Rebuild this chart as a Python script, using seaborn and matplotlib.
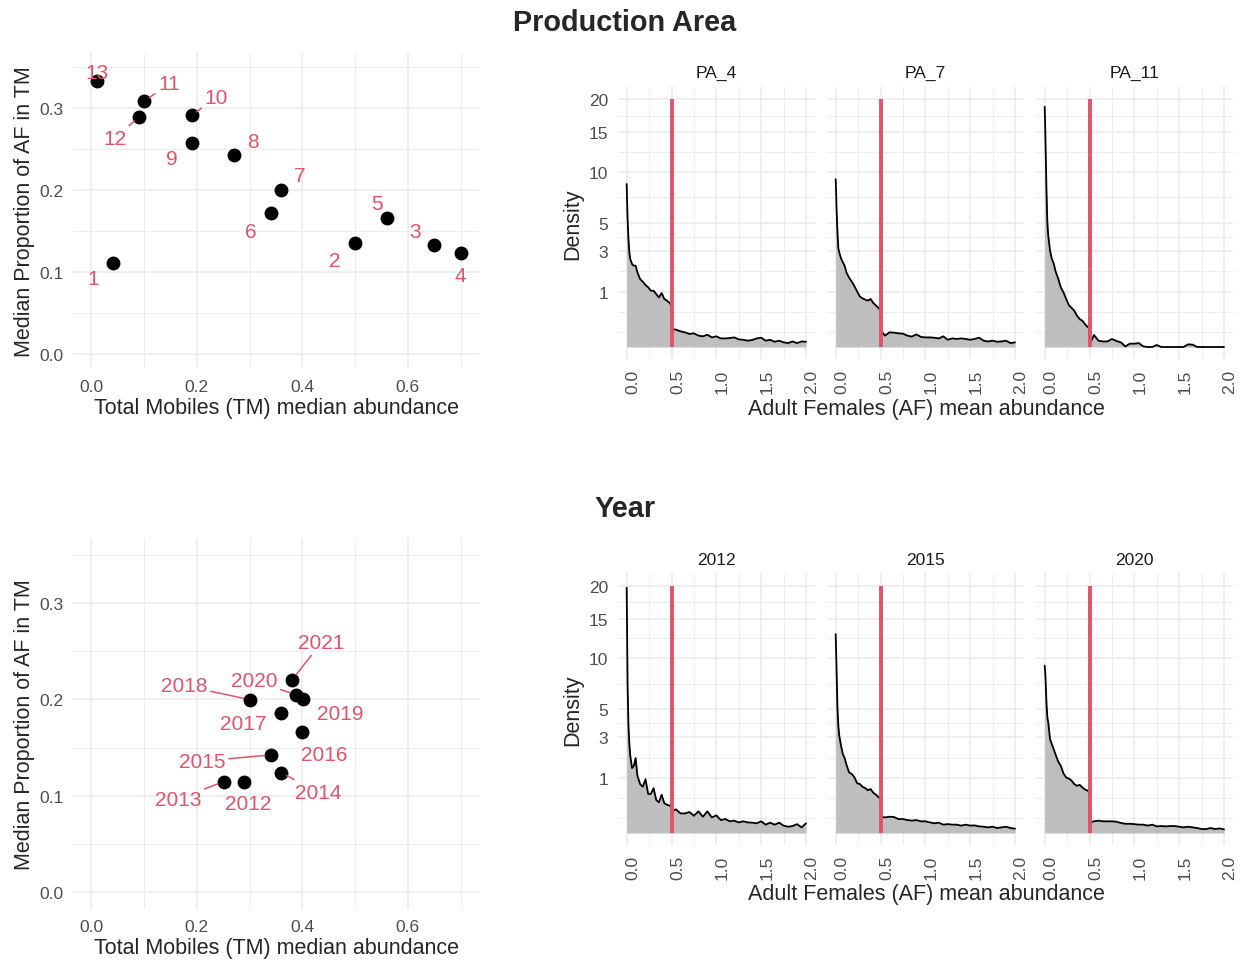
import numpy as np
import pandas as pd
import matplotlib
matplotlib.use("Agg")
import matplotlib.pyplot as plt
import matplotlib.transforms as mtransforms
import seaborn as sns
from matplotlib.ticker import FixedLocator

# ---- scatter data: production areas ----
pa_ids = [1, 2, 3, 4, 5, 6, 7, 8, 9, 10, 11, 12, 13]
pa_tm = [0.04, 0.50, 0.65, 0.70, 0.56, 0.34, 0.36, 0.27, 0.19, 0.19, 0.10, 0.09, 0.01]
pa_af = [0.111, 0.135, 0.133, 0.123, 0.166, 0.172, 0.200, 0.243, 0.257, 0.291, 0.308, 0.289, 0.333]
pa_lab_x = [0.004, 0.461, 0.613, 0.700, 0.541, 0.303, 0.394, 0.306, 0.153, 0.237, 0.147, 0.044, 0.011]
pa_lab_y = [0.0915, 0.1146, 0.149, 0.0955, 0.184, 0.150, 0.2175, 0.259, 0.238, 0.313, 0.330, 0.263, 0.3435]
pa_seg = [False, False, False, False, False, False, False, False, False, True, True, True, False]

# ---- scatter data: years ----
yr_ids = [2012, 2013, 2014, 2015, 2016, 2017, 2018, 2019, 2020, 2021]
yr_tm = [0.289, 0.251, 0.360, 0.341, 0.399, 0.360, 0.300, 0.401, 0.387, 0.381]
yr_af = [0.1148, 0.1148, 0.124, 0.1424, 0.1666, 0.186, 0.1998, 0.2005, 0.205, 0.2205]
yr_lab_x = [0.297, 0.164, 0.430, 0.210, 0.442, 0.287, 0.176, 0.471, 0.308, 0.436]
yr_lab_y = [0.0917, 0.0963, 0.1037, 0.136, 0.1428, 0.175, 0.2143, 0.185, 0.2195, 0.259]
yr_seg = [False, True, True, True, False, False, True, False, True, True]

# ---- density curves (AF mean abundance) ----
dens_x = [0, 0.005, 0.01, 0.02, 0.03, 0.04, 0.06, 0.08, 0.10, 0.12, 0.15, 0.18, 0.21,
          0.24, 0.27, 0.30, 0.33, 0.36, 0.39, 0.42, 0.45, 0.48, 0.495,
          0.505, 0.55, 0.60, 0.65, 0.70, 0.75, 0.80, 0.85, 0.90, 0.95, 1.00, 1.05,
          1.10, 1.15, 1.20, 1.25, 1.30, 1.35, 1.40, 1.45, 1.50, 1.55, 1.60, 1.65,
          1.70, 1.75, 1.80, 1.85, 1.90, 1.95, 2.00]

dens_pa4 = [8.64, 6.8, 5.33, 3.79, 2.91, 2.52, 2.24, 2.15, 2.15, 1.81, 1.50, 1.39, 1.25,
            1.16, 1.03, 1.03, 0.91, 0.80, 0.95, 0.75, 0.70, 0.63, 0.57,
            0.105, 0.098, 0.080, 0.070, 0.055, 0.061, 0.042, 0.037, 0.049, 0.030, 0.037, 0.024,
            0.024, 0.026, 0.030, 0.019, 0.017, 0.013, 0.016, 0.024, 0.028, 0.013, 0.017, 0.009,
            0.013, 0.007, 0.005, 0.010, 0.005, 0.010, 0.009]
dens_pa7 = [9.17, 7.78, 6.19, 4.27, 3.16, 2.91, 2.56, 2.33, 2.15, 1.81, 1.56, 1.39, 1.20,
            1.00, 0.83, 0.77, 0.73, 0.70, 0.75, 0.63, 0.56, 0.49, 0.45,
            0.087, 0.042, 0.070, 0.067, 0.061, 0.058, 0.042, 0.035, 0.052, 0.033, 0.030, 0.030,
            0.028, 0.024, 0.037, 0.017, 0.024, 0.021, 0.024, 0.021, 0.017, 0.021, 0.028, 0.013,
            0.010, 0.013, 0.009, 0.010, 0.013, 0.005, 0.007]
dens_pa11 = [18.8, 16.4, 13.2, 8.11, 5.05, 4.03, 3.02, 2.52, 2.29, 1.89, 1.53, 1.16, 0.97,
             0.75, 0.57, 0.50, 0.43, 0.32, 0.255, 0.225, 0.17, 0.13, 0.12,
             0.003, 0.047, 0.013, 0.010, 0.010, 0.021, 0.012, 0.007, 0.0001, 0.0036, 0.0036, 0.005,
             0.0001, 0.0, 0.0, 0.0013, 0.0, 0.0, 0.0, 0.0, 0.0, 0.0, 0.0023, 0.0018,
             0.0, 0.0, 0.0, 0.0, 0.0, 0.0, 0.0]
dens_2012 = [19.7, 12.95, 7.26, 3.77, 2.59, 1.96, 1.38, 1.48, 1.84, 1.07, 0.785, 0.70, 0.95,
             0.50, 0.50, 0.66, 0.356, 0.308, 0.48, 0.288, 0.262, 0.244, 0.227,
             0.154, 0.183, 0.126, 0.126, 0.144, 0.098, 0.154, 0.087, 0.154, 0.080, 0.102, 0.055,
             0.064, 0.045, 0.050, 0.037, 0.045, 0.037, 0.035, 0.031, 0.045, 0.023, 0.035, 0.023,
             0.035, 0.018, 0.013, 0.016, 0.026, 0.0105, 0.031]
dens_2015 = [12.95, 10.87, 8.62, 5.16, 3.77, 3.10, 2.49, 2.04, 1.84, 1.53, 1.20, 1.14, 1.01,
             0.81, 0.785, 0.70, 0.66, 0.60, 0.633, 0.53, 0.48, 0.416, 0.39,
             0.087, 0.080, 0.087, 0.084, 0.064, 0.064, 0.055, 0.050, 0.055, 0.045, 0.045, 0.037,
             0.031, 0.035, 0.023, 0.026, 0.023, 0.023, 0.018, 0.023, 0.018, 0.019, 0.0145, 0.013,
             0.0105, 0.013, 0.0082, 0.0105, 0.013, 0.0082, 0.0061]
dens_2020 = [9.16, 8.62, 7.76, 5.58, 4.37, 4.00, 2.89, 2.59, 2.31, 2.04, 1.68, 1.48, 1.16,
             1.01, 0.97, 0.90, 0.785, 0.73, 0.76, 0.68, 0.62, 0.586, 0.55,
             0.037, 0.045, 0.050, 0.045, 0.045, 0.045, 0.042, 0.033, 0.028, 0.028, 0.026, 0.023,
             0.023, 0.018, 0.023, 0.0145, 0.016, 0.0145, 0.016, 0.016, 0.013, 0.0105, 0.013, 0.0105,
             0.0082, 0.0052, 0.0052, 0.0082, 0.0052, 0.007, 0.0044]

af_cutoff = 0.5
cutoff_top = 20

pa_panels = ["PA_4", "PA_7", "PA_11"]
pa_dens = [dens_pa4, dens_pa7, dens_pa11]
yr_panels = ["2012", "2015", "2020"]
yr_dens = [dens_2012, dens_2015, dens_2020]

dens_yticks = [1, 3, 5, 10, 15, 20]
dens_yminor = [0.0718, 0.402, 1.866, 3.936, 7.285, 12.39, 17.39]
dens_xticks = [0, 0.5, 1.0, 1.5, 2.0]
dens_xminor = [0.25, 0.75, 1.25, 1.75]

W, H = 1247, 962
RED = "#DF536B"
GRID = "#EBEBEB"
TICK = "#4D4D4D"
TICK_FS = 12.5
TITLE_FS = 15.5

sns.set_theme(style="white")
plt.rcParams["font.family"] = ["Liberation Sans", "DejaVu Sans"]

fig = plt.figure(figsize=(W / 100, H / 100), dpi=100)


def px_axes(l, t, r, b):
    return fig.add_axes([l / W, 1 - b / H, (r - l) / W, (b - t) / H])


def style_axes(ax, xmaj, xmin, ymaj, ymin):
    ax.xaxis.set_major_locator(FixedLocator(xmaj))
    ax.xaxis.set_minor_locator(FixedLocator(xmin))
    ax.yaxis.set_major_locator(FixedLocator(ymaj))
    ax.yaxis.set_minor_locator(FixedLocator(ymin))
    ax.grid(which="major", color=GRID, lw=1.1)
    ax.grid(which="minor", color=GRID, lw=0.6)
    ax.set_axisbelow(True)
    for s in ax.spines.values():
        s.set_visible(False)
    ax.tick_params(which="both", length=0, labelsize=TICK_FS, labelcolor=TICK)


def scatter_panel(ax, tm, af, labels, lab_x, lab_y, seg):
    df = pd.DataFrame({"tm": tm, "af": af})
    sns.scatterplot(data=df, x="tm", y="af", color="black", s=100, linewidth=0,
                    ax=ax, zorder=3)
    for i, lab in enumerate(labels):
        if seg[i]:
            ax.annotate(str(lab), xy=(tm[i], af[i]), xytext=(lab_x[i], lab_y[i]),
                        ha="center", va="center", color=RED, fontsize=15, zorder=4,
                        arrowprops=dict(arrowstyle="-", color=RED, lw=1.1,
                                        shrinkA=0, shrinkB=4.5))
        else:
            ax.text(lab_x[i], lab_y[i], str(lab), ha="center", va="center",
                    color=RED, fontsize=15, zorder=4)
    ax.set_xlim(-0.035, 0.735)
    ax.set_ylim(-0.0175, 0.3675)
    style_axes(ax, [0, 0.2, 0.4, 0.6], [0.1, 0.3, 0.5, 0.7],
               [0, 0.1, 0.2, 0.3], [0.05, 0.15, 0.25, 0.35])
    ax.set_xticklabels([f"{v:.1f}" for v in [0, 0.2, 0.4, 0.6]])
    ax.set_yticklabels([f"{v:.1f}" for v in [0, 0.1, 0.2, 0.3]])
    ax.tick_params(axis="x", pad=7.5)
    ax.tick_params(axis="y", pad=7)
    ax.set_xlabel("Total Mobiles (TM) median abundance", fontsize=TITLE_FS, labelpad=2)
    ax.set_ylabel("Median Proportion of AF in TM", fontsize=TITLE_FS, labelpad=3)


def fwd(y):
    y = np.asarray(y, dtype=float)
    return np.sign(y) * np.sqrt(np.abs(y))


def inv(y):
    y = np.asarray(y, dtype=float)
    return np.sign(y) * y ** 2


def density_panel(ax, dens, title, first):
    df = pd.DataFrame({"x": dens_x, "d": dens})
    ax.set_yscale("function", functions=(fwd, inv))
    ax.fill_between(df["x"], 0, df["d"], color="#BEBEBE", lw=0, zorder=2)
    sns.lineplot(data=df, x="x", y="d", color="black", lw=1.3, ax=ax, zorder=3)
    ax.vlines(af_cutoff, 0, cutoff_top, color=RED, lw=2.8, zorder=4)
    ax.set_xlim(-0.1, 2.1)
    ax.set_ylim(-0.05, 22.05)
    style_axes(ax, dens_xticks, dens_xminor, dens_yticks, dens_yminor)
    ax.set_xticklabels([f"{v:.1f}" for v in dens_xticks])
    ax.tick_params(axis="x", pad=6.5)
    ax.tick_params(axis="y", pad=7)
    ax.set_xlabel("")
    if first:
        ax.set_yticklabels([str(v) for v in dens_yticks])
        ax.set_ylabel("Density", fontsize=TITLE_FS, labelpad=4)
    else:
        ax.set_yticklabels([])
        ax.set_ylabel("")
    ax.set_title(title, fontsize=12.5, color="#1A1A1A", pad=7)
    # rotated labels sit a little right of their ticks, as in the original
    offset = mtransforms.ScaledTranslation(6 / 100, 0, fig.dpi_scale_trans)
    for lab in ax.get_xticklabels():
        lab.set_rotation(90)
        lab.set_ha("center")
        lab.set_va("top")
        lab.set_transform(lab.get_transform() + offset)


# left scatter plots
ax_pa = px_axes(73, 53.6, 479, 369.4)
scatter_panel(ax_pa, pa_tm, pa_af, pa_ids, pa_lab_x, pa_lab_y, pa_seg)
ax_yr = px_axes(73, 539, 479, 910)
scatter_panel(ax_yr, yr_tm, yr_af, yr_ids, yr_lab_x, yr_lab_y, yr_seg)

# right density facets
cols = [(617.7, 815), (826.7, 1024), (1035.7, 1233)]
for i, (l, r) in enumerate(cols):
    ax = px_axes(l, 87.7, r, 360.4)
    density_panel(ax, pa_dens[i], pa_panels[i], i == 0)
    ax = px_axes(l, 574.4, r, 846.4)
    density_panel(ax, yr_dens[i], yr_panels[i], i == 0)

fig.text(926 / W, 1 - 410 / H, "Adult Females (AF) mean abundance", fontsize=TITLE_FS,
         ha="center", va="center")
fig.text(926 / W, 1 - 895 / H, "Adult Females (AF) mean abundance", fontsize=TITLE_FS,
         ha="center", va="center")

fig.text(625 / W, 1 - 23 / H, "Production Area", fontsize=20.8, fontweight="bold",
         ha="center", va="center")
fig.text(625 / W, 1 - 509 / H, "Year", fontsize=20.8, fontweight="bold",
         ha="center", va="center")

fig.savefig("out.png", dpi=100, facecolor="white")
